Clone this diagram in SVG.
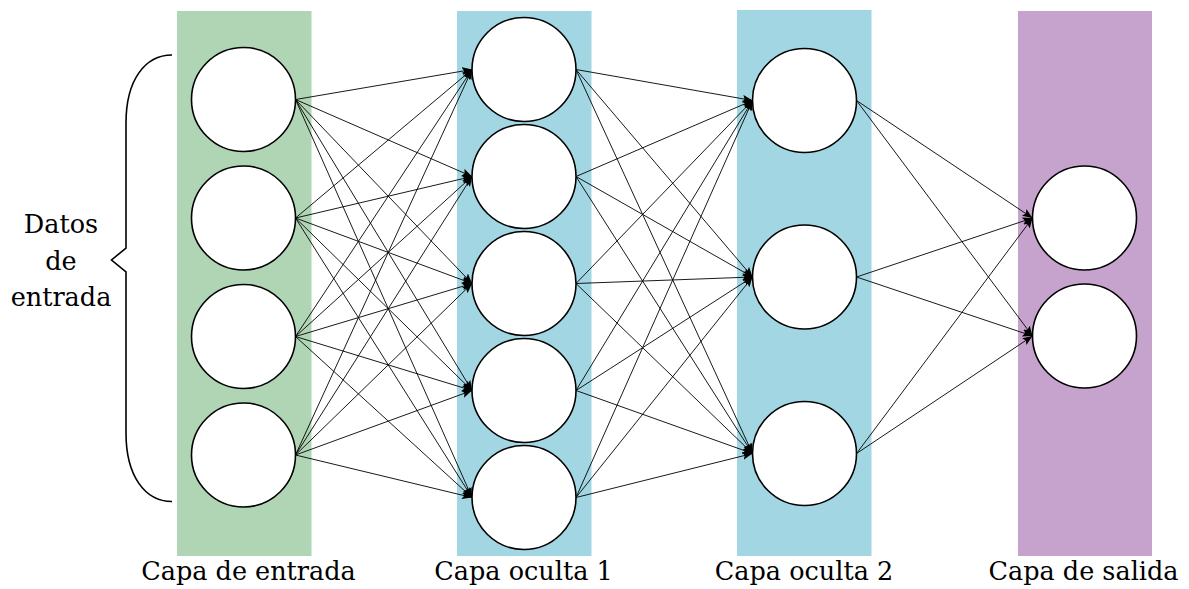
<svg xmlns="http://www.w3.org/2000/svg" width="1189" height="589" viewBox="0 0 1189 589">
<style>
.node{fill:#fff;stroke:#000;stroke-width:1.6}
.conn line{stroke:#000;stroke-width:0.9;marker-end:url(#ah)}
.lbl{font-family:"DejaVu Serif","Liberation Serif",serif;font-size:25.5px;fill:#000;text-anchor:middle}
</style>
<defs>
<marker id="ah" markerUnits="userSpaceOnUse" markerWidth="12" markerHeight="10" refX="10" refY="4" orient="auto">
<path d="M0,0 L10,4 L0,8 L2,4 Z" fill="#000"/>
</marker>
</defs>
<rect id="band-input" x="177" y="11" width="134.5" height="545" fill="#b0d5b5"/>
<rect id="band-h1" x="457" y="11" width="134.5" height="545" fill="#a2d6e2"/>
<rect id="band-h2" x="737" y="10" width="134.5" height="546" fill="#a2d6e2"/>
<rect id="band-out" x="1018" y="11" width="134" height="545" fill="#c6a3cc"/>
<g id="connectors" class="conn">
<line x1="295.5" y1="99.5" x2="472" y2="69.5"/><line x1="295.5" y1="99.5" x2="472" y2="176.5"/><line x1="295.5" y1="99.5" x2="472" y2="283.5"/><line x1="295.5" y1="99.5" x2="472" y2="390.5"/><line x1="295.5" y1="99.5" x2="472" y2="497.5"/>
<line x1="295.5" y1="218" x2="472" y2="69.5"/><line x1="295.5" y1="218" x2="472" y2="176.5"/><line x1="295.5" y1="218" x2="472" y2="283.5"/><line x1="295.5" y1="218" x2="472" y2="390.5"/><line x1="295.5" y1="218" x2="472" y2="497.5"/>
<line x1="295.5" y1="336.5" x2="472" y2="69.5"/><line x1="295.5" y1="336.5" x2="472" y2="176.5"/><line x1="295.5" y1="336.5" x2="472" y2="283.5"/><line x1="295.5" y1="336.5" x2="472" y2="390.5"/><line x1="295.5" y1="336.5" x2="472" y2="497.5"/>
<line x1="295.5" y1="455" x2="472" y2="69.5"/><line x1="295.5" y1="455" x2="472" y2="176.5"/><line x1="295.5" y1="455" x2="472" y2="283.5"/><line x1="295.5" y1="455" x2="472" y2="390.5"/><line x1="295.5" y1="455" x2="472" y2="497.5"/>
<line x1="576" y1="69.5" x2="752.5" y2="100.5"/><line x1="576" y1="69.5" x2="752.5" y2="277"/><line x1="576" y1="69.5" x2="752.5" y2="453.5"/>
<line x1="576" y1="176.5" x2="752.5" y2="100.5"/><line x1="576" y1="176.5" x2="752.5" y2="277"/><line x1="576" y1="176.5" x2="752.5" y2="453.5"/>
<line x1="576" y1="283.5" x2="752.5" y2="100.5"/><line x1="576" y1="283.5" x2="752.5" y2="277"/><line x1="576" y1="283.5" x2="752.5" y2="453.5"/>
<line x1="576" y1="390.5" x2="752.5" y2="100.5"/><line x1="576" y1="390.5" x2="752.5" y2="277"/><line x1="576" y1="390.5" x2="752.5" y2="453.5"/>
<line x1="576" y1="497.5" x2="752.5" y2="100.5"/><line x1="576" y1="497.5" x2="752.5" y2="277"/><line x1="576" y1="497.5" x2="752.5" y2="453.5"/>
<line x1="856.5" y1="100.5" x2="1032.5" y2="218"/><line x1="856.5" y1="100.5" x2="1032.5" y2="336"/>
<line x1="856.5" y1="277" x2="1032.5" y2="218"/><line x1="856.5" y1="277" x2="1032.5" y2="336"/>
<line x1="856.5" y1="453.5" x2="1032.5" y2="218"/><line x1="856.5" y1="453.5" x2="1032.5" y2="336"/>
</g>
<g id="in1"><circle class="node" cx="243.5" cy="99.5" r="52"/></g>
<g id="in2"><circle class="node" cx="243.5" cy="218" r="52"/></g>
<g id="in3"><circle class="node" cx="243.5" cy="336.5" r="52"/></g>
<g id="in4"><circle class="node" cx="243.5" cy="455" r="52"/></g>
<g id="h1n1"><circle class="node" cx="524" cy="69.5" r="52"/></g>
<g id="h1n2"><circle class="node" cx="524" cy="176.5" r="52"/></g>
<g id="h1n3"><circle class="node" cx="524" cy="283.5" r="52"/></g>
<g id="h1n4"><circle class="node" cx="524" cy="390.5" r="52"/></g>
<g id="h1n5"><circle class="node" cx="524" cy="497.5" r="52"/></g>
<g id="h2n1"><circle class="node" cx="804.5" cy="100.5" r="52"/></g>
<g id="h2n2"><circle class="node" cx="804.5" cy="277" r="52"/></g>
<g id="h2n3"><circle class="node" cx="804.5" cy="453.5" r="52"/></g>
<g id="out1"><circle class="node" cx="1084.5" cy="218" r="52"/></g>
<g id="out2"><circle class="node" cx="1084.5" cy="336" r="52"/></g>
<g id="brace">
<path d="M172,55 C145,55 126,80 126,123 L126,248 L111.5,260 L126,272 L126,433 C126,476 145,501.5 172,501.5" fill="none" stroke="#000" stroke-width="1.6"/>
<text class="lbl" x="61" y="233">Datos</text>
<text class="lbl" x="61" y="270">de</text>
<text class="lbl" x="61" y="306">entrada</text>
</g>
<g id="labels">
<text class="lbl" x="248.5" y="580">Capa de entrada</text>
<text class="lbl" x="523.5" y="580">Capa oculta 1</text>
<text class="lbl" x="804" y="580">Capa oculta 2</text>
<text class="lbl" x="1083.5" y="580">Capa de salida</text>
</g>
</svg>
